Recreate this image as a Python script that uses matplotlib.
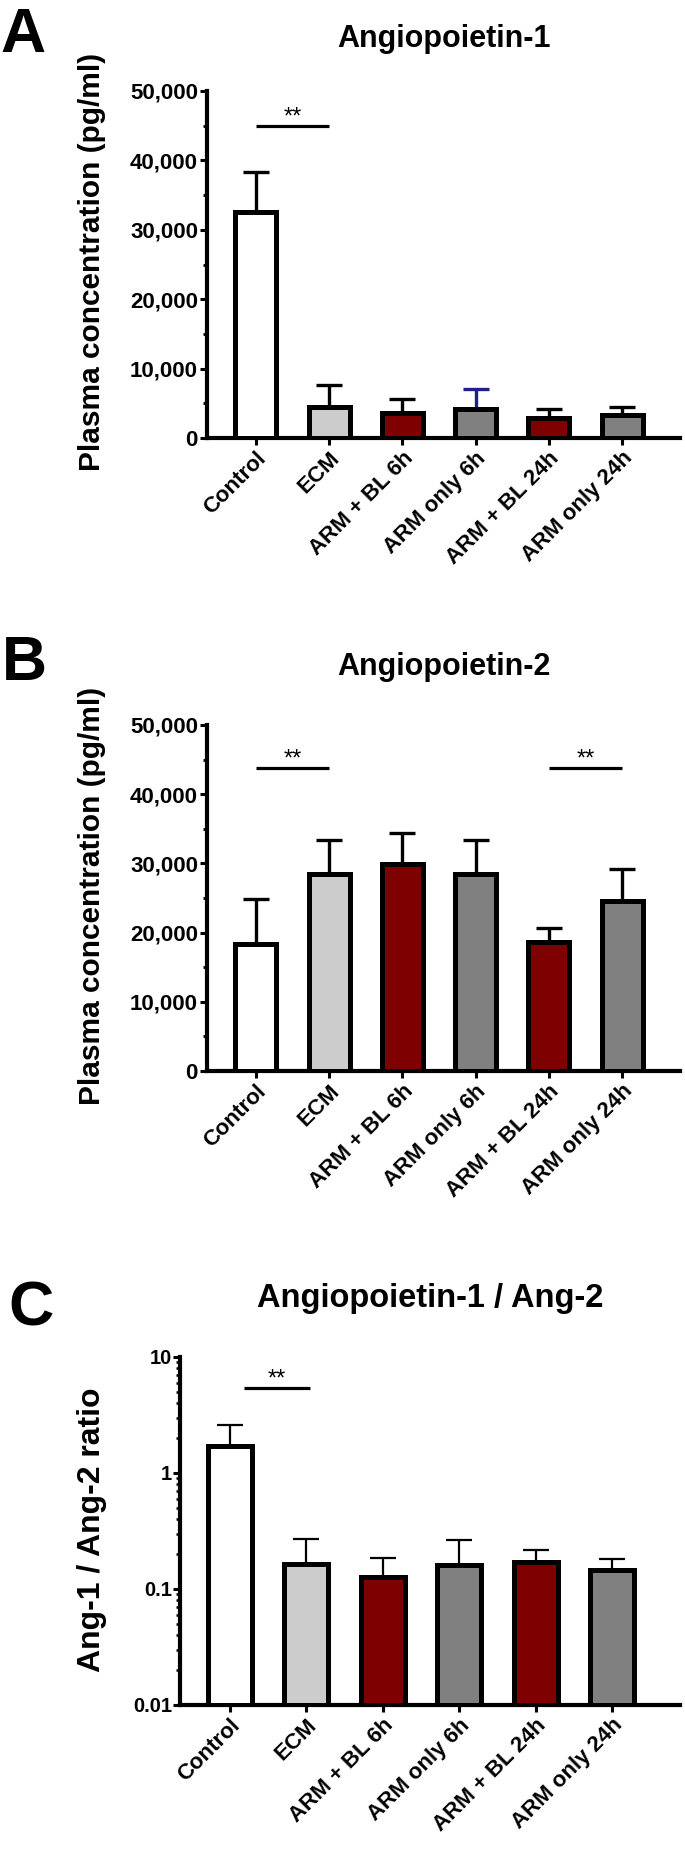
import matplotlib
matplotlib.use('Agg')
import matplotlib.pyplot as plt
import numpy as np
from matplotlib.ticker import MultipleLocator, FuncFormatter, LogLocator, NullFormatter, FixedLocator

plt.rcParams['font.family'] = ['Liberation Sans', 'DejaVu Sans']
plt.rcParams['font.weight'] = 'bold'

# ---------------- data ----------------
categories = ['Control', 'ECM', 'ARM + BL 6h', 'ARM only 6h', 'ARM + BL 24h', 'ARM only 24h']
bar_colors = ['#ffffff', '#cccccc', '#7f0000', '#808080', '#7f0000', '#808080']

ang1_mean = [32500, 4500, 3550, 4250, 2900, 3250]
ang1_err = [5830, 3170, 2090, 2840, 1300, 1190]
ang1_err_colors = ['black', 'black', 'black', '#1f1f8c', 'black', 'black']

ang2_mean = [18400, 28450, 29850, 28450, 18650, 24550]
ang2_err = [6450, 5000, 4550, 4900, 2050, 4600]
ang2_err_colors = ['black'] * 6

ratio_mean = [1.72, 0.163, 0.128, 0.160, 0.170, 0.145]
ratio_err = [0.87, 0.107, 0.057, 0.105, 0.047, 0.036]
ratio_err_colors = ['black'] * 6

# significance brackets: (x start, x end, y level)
sig_A = [(0, 1, 45000)]
sig_B = [(0, 1, 43800), (4, 5, 43800)]
sig_C = [(0.18, 1.05, 5.4)]

titles = ['Angiopoietin-1', 'Angiopoietin-2', 'Angiopoietin-1 / Ang-2']
ylabels = ['Plasma concentration (pg/ml)', 'Plasma concentration (pg/ml)', 'Ang-1 / Ang-2 ratio']
letters = ['A', 'B', 'C']

# ---------------- layout (pixels) ----------------
W, H = 685, 1853
fig = plt.figure(figsize=(W / 100, H / 100), dpi=100)

def px_axes(left, top, right, bottom):
    return fig.add_axes([left / W, 1 - bottom / H, (right - left) / W, (bottom - top) / H])

def style_axes(ax):
    for s in ['top', 'right']:
        ax.spines[s].set_visible(False)
    for s in ['left', 'bottom']:
        ax.spines[s].set_linewidth(3.0)
    ax.tick_params(axis='x', which='major', length=5, width=2.2, pad=2, labelsize=16)
    ax.tick_params(axis='x', which='minor', length=0)
    ax.tick_params(axis='y', which='major', length=5, width=2.2, pad=1.5, labelsize=16)
    ax.tick_params(axis='y', which='minor', length=3, width=2.0)
    ax.set_xticks(np.arange(len(categories)))
    ax.set_xticklabels(categories, rotation=45, ha='right', rotation_mode='anchor',
                       fontweight='bold')
    for lab in ax.get_yticklabels():
        lab.set_fontweight('bold')

def draw_bars(ax, means, errs, ecolors, width, bottom=0, elw=2.4):
    x = np.arange(len(means))
    ax.bar(x, np.array(means) - bottom, width=width, bottom=bottom, color=bar_colors,
           edgecolor='black', linewidth=3.6, zorder=3)
    for xi, m, e, c in zip(x, means, errs, ecolors):
        ax.errorbar(xi, m, yerr=[[0], [e]], fmt='none', ecolor=c, elinewidth=elw,
                    capsize=9.5, capthick=elw, zorder=2)

def draw_sig(ax, sigs):
    for x0, x1, y in sigs:
        ax.plot([x0, x1], [y, y], color='black', lw=2.3, solid_capstyle='butt', zorder=4)
        ax.annotate('**', xy=((x0 + x1) / 2, y), xytext=(0, 1.5), textcoords='offset points',
                    ha='center', va='baseline', fontsize=17, fontweight='normal')

thousands = FuncFormatter(lambda v, p: f'{int(round(v)):,}')

# Panel A
axA = px_axes(207, 91, 680, 438)
draw_bars(axA, ang1_mean, ang1_err, ang1_err_colors, 0.56)
axA.set_ylim(0, 50000)
axA.set_xlim(-0.669, 5.79)
axA.yaxis.set_major_locator(MultipleLocator(10000))
axA.yaxis.set_minor_locator(MultipleLocator(5000))
axA.yaxis.set_major_formatter(thousands)
style_axes(axA)
draw_sig(axA, sig_A)

# Panel B
axB = px_axes(207, 725, 680, 1071)
draw_bars(axB, ang2_mean, ang2_err, ang2_err_colors, 0.56)
axB.set_ylim(0, 50000)
axB.set_xlim(-0.669, 5.79)
axB.yaxis.set_major_locator(MultipleLocator(10000))
axB.yaxis.set_minor_locator(MultipleLocator(5000))
axB.yaxis.set_major_formatter(thousands)
style_axes(axB)
draw_sig(axB, sig_B)

# Panel C
axC = px_axes(180, 1357, 680, 1705)
axC.set_yscale('log')
axC.set_ylim(0.01, 10)
draw_bars(axC, ratio_mean, ratio_err, ratio_err_colors, 0.575, bottom=0.01, elw=1.6)
axC.set_xlim(-0.653, 5.89)
axC.yaxis.set_major_locator(FixedLocator([0.01, 0.1, 1, 10]))
axC.yaxis.set_minor_locator(LogLocator(base=10, subs=np.arange(2, 10)))
axC.yaxis.set_minor_formatter(NullFormatter())
axC.yaxis.set_major_formatter(FuncFormatter(lambda v, p: f'{v:g}'))
style_axes(axC)
axC.tick_params(axis='y', which='major', labelsize=14.5, length=5, pad=0.5)
axC.tick_params(axis='y', which='minor', length=3, width=1.8)
for lab in axC.get_yticklabels():
    lab.set_fontweight('bold')
draw_sig(axC, sig_C)

# titles, letters, y labels
title_specs = [((207 + 680) / 2, 47, 22), ((207 + 680) / 2, 675, 22), ((180 + 680) / 2, 1307, 23.5)]
for t, (cx, by, fs) in zip(titles, title_specs):
    fig.text(cx / W, 1 - by / H, t, ha='center', va='baseline', fontsize=fs, fontweight='bold')

letter_specs = [(0, 52), (2, 680), (8, 1326)]
for l, (lx, by) in zip(letters, letter_specs):
    fig.text(lx / W, 1 - by / H, l, ha='left', va='baseline', fontsize=45, fontweight='bold')

ylabel_specs = [(92, 262, 21.5), (92, 896, 21.5), (92, 1530, 23)]
for yl, (cx, cy, fs) in zip(ylabels, ylabel_specs):
    fig.text(cx / W, 1 - cy / H, yl, ha='center', va='center', rotation=90,
             fontsize=fs, fontweight='bold')

fig.savefig('out.png', dpi=100, facecolor='white')
